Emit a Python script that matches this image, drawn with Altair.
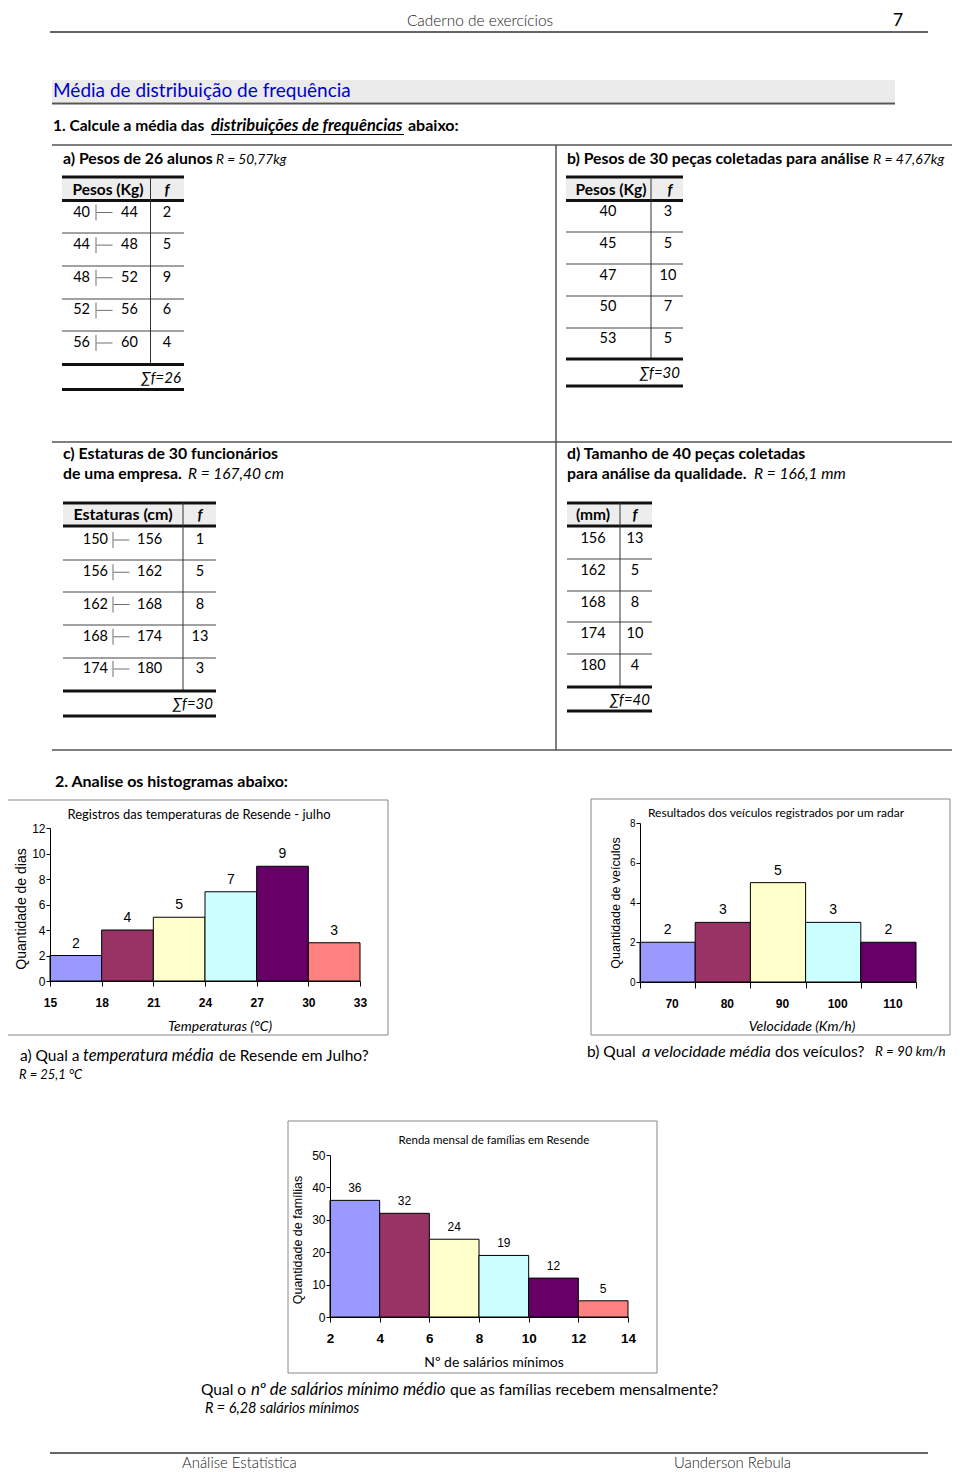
import altair as alt
import pandas as pd

# ---------------- data ----------------
tab_a_lo = [40, 44, 48, 52, 56]
tab_a_hi = [44, 48, 52, 56, 60]
tab_a_f = [2, 5, 9, 6, 4]
tab_b_x = [40, 45, 47, 50, 53]
tab_b_f = [3, 5, 10, 7, 5]
tab_c_lo = [150, 156, 162, 168, 174]
tab_c_hi = [156, 162, 168, 174, 180]
tab_c_f = [1, 5, 8, 13, 3]
tab_d_x = [156, 162, 168, 174, 180]
tab_d_f = [13, 5, 8, 10, 4]

temp_edges = [15, 18, 21, 24, 27, 30, 33]
temp_days = [2, 4, 5, 7, 9, 3]
temp_ticks = [0, 2, 4, 6, 8, 10, 12]
speed_classes = ["70", "80", "90", "100", "110"]
speed_count = [2, 3, 5, 3, 2]
speed_ticks = [0, 2, 4, 6, 8]
wage_edges = [2, 4, 6, 8, 10, 12, 14]
wage_families = [36, 32, 24, 19, 12, 5]
wage_ticks = [0, 10, 20, 30, 40, 50]
bar_palette = ["#9999ff", "#993366", "#ffffcc", "#ccffff", "#660066", "#ff8080"]

# ---------------- layout helpers ----------------
W, H = 944, 1464
BODY = "Lato"
ARIAL = "Liberation Sans"


def px(v):
    return v - 8


DUMMY = pd.DataFrame({"k": [0]})
bg, mid, fg = [], [], []


def txt(s, x, y, size=15, font=BODY, weight="normal", style="normal",
        align="left", color="black", angle=0):
    fg.append(alt.Chart(DUMMY).mark_text(
        text=s, fontSize=size, font=font, fontWeight=weight, fontStyle=style,
        align=align, baseline="middle", color=color, angle=angle
    ).encode(x=alt.value(px(x)), y=alt.value(px(y))))


def line(x1, y1, x2, y2, color="#222", w=1.0):
    bg.append(alt.Chart(DUMMY).mark_rule(color=color, strokeWidth=w).encode(
        x=alt.value(px(x1)), x2=alt.value(px(x2)),
        y=alt.value(px(y1)), y2=alt.value(px(y2))))


def box(x1, y1, x2, y2, fill="white", stroke=None, w=1.0, opacity=1.0):
    kw = dict(fill=fill, fillOpacity=opacity)
    if stroke:
        kw.update(stroke=stroke, strokeWidth=w)
    bg.append(alt.Chart(DUMMY).mark_rect(**kw).encode(
        x=alt.value(px(x1)), x2=alt.value(px(x2)),
        y=alt.value(px(y1)), y2=alt.value(px(y2))))


# ---------------- header ----------------
txt("Caderno de exercícios", 480, 21, 15.4, weight=300, align="center", color="#222")
txt("7", 898, 21, 18, align="center")
line(50, 32, 928, 32, "#333", 1.5)

box(52, 80, 895, 102, fill="#ebebeb")
line(52, 103.5, 895, 103.5, "#555", 2)
txt("Média de distribuição de frequência", 53, 91, 19, color="#0000cc")

txt("1. Calcule a média das", 53, 126, 15.5, weight="bold")
txt("distribuições de frequências", 211, 126, 16.4, weight="bold", style="italic")
line(211, 134.5, 404, 134.5, "#000", 1)
txt("abaixo:", 408, 126, 16, weight="bold")

line(52, 145, 960, 145, "#555", 1.5)
line(556, 145, 556, 750, "#555", 1.5)
line(52, 442, 960, 442, "#555", 1.5)
line(52, 750, 960, 750, "#555", 1.5)

# ---------------- section titles ----------------
TB = 15.8
txt("a) Pesos de 26 alunos", 63, 159, TB, weight="bold")
txt("R = 50,77kg", 216, 160, 13.7, style="italic")
txt("b) Pesos de 30 peças coletadas para  análise", 567, 159, TB, weight="bold")
txt("R = 47,67kg", 873, 160, 14, style="italic")
txt("c) Estaturas de 30 funcionários", 63, 454, TB, weight="bold")
txt("de uma empresa.", 63, 474, TB, weight="bold")
txt("R = 167,40 cm", 188, 474, 15.5, style="italic")
txt("d) Tamanho de 40 peças coletadas", 567, 454, TB, weight="bold")
txt("para análise da qualidade.", 567, 474, TB, weight="bold")
txt("R = 166,1 mm", 754, 474, 15.6, style="italic")


# ---------------- tables ----------------
def table(g, header, cols, sum_label):
    box(g["left"], g["top"] + 1.5, g["right"], g["hbot"] - 1.5, fill="#ededed")
    line(g["left"], g["top"], g["right"], g["top"], "#111", 3)
    line(g["left"], g["hbot"], g["right"], g["hbot"], "#111", 3)
    for ly in g["rlines"]:
        line(g["left"], ly, g["right"], ly, "#444", 1)
    line(g["vdiv"], g["top"], g["vdiv"], g["thick"], "#333", 1)
    line(g["left"], g["thick"], g["right"], g["thick"], "#111", 3)
    line(g["left"], g["bottom"], g["right"], g["bottom"], "#111", 3)
    txt(header, g["hx"], g["hy"], g.get("hs", 15.5), weight="bold", align="center")
    txt("f", g["fhx"], g["hy"], 15, weight="bold", style="italic", align="center")
    txt(sum_label, g["sumx"], g["sumy"], 15, style="italic", align="right")

    n = len(cols[0][0])
    ys = alt.Scale(type="point", domain=list(range(n)),
                   range=[px(g["rows"][0]), px(g["rows"][1])], padding=0)
    parts = []
    for vals, xpos, align in cols:
        df = pd.DataFrame({"row": list(range(n)), "v": vals})
        parts.append(alt.Chart(df).mark_text(
            fontSize=14.5, font=BODY, align=align, baseline="middle", color="black"
        ).encode(y=alt.Y("row:O", scale=ys, axis=None),
                 x=alt.value(px(xpos)), text="v:N"))
    if "sym" in g:
        df = pd.DataFrame({"row": list(range(n))})
        sx = g["sym"]
        parts.append(alt.Chart(df).mark_tick(
            orient="vertical", size=16, thickness=1, color="#333"
        ).encode(y=alt.Y("row:O", scale=ys, axis=None), x=alt.value(px(sx))))
        parts.append(alt.Chart(df).mark_tick(
            orient="horizontal", size=16, thickness=1, color="#333"
        ).encode(y=alt.Y("row:O", scale=ys, axis=None), x=alt.value(px(sx + 8.5))))
    mid.append(alt.layer(*parts))


geo_a = dict(left=62, right=184, vdiv=150.5, top=177, hbot=200.5,
             rows=(212.5, 343), rlines=[233, 266, 299, 331], thick=364.5,
             bottom=389.5, hy=189.5, hx=108, fhx=167, sumx=181, sumy=378, sym=96)
table(geo_a, "Pesos (Kg)",
      [(tab_a_lo, 90, "right"), (tab_a_hi, 121, "left"), (tab_a_f, 167, "center")],
      "∑f=26")

geo_b = dict(left=566, right=683, vdiv=651, top=177, hbot=200.5,
             rows=(212, 339), rlines=[232, 264, 296, 328], thick=359,
             bottom=386, hy=189.5, hx=611, fhx=670, sumx=680, sumy=373)
table(geo_b, "Pesos (Kg)",
      [(tab_b_x, 608, "center"), (tab_b_f, 668, "center")], "∑f=30")

geo_c = dict(left=63, right=216, vdiv=183, top=503, hbot=526,
             rows=(540, 669), rlines=[560, 592, 625, 658], thick=691,
             bottom=716, hy=515, hx=123, fhx=200, sumx=213, sumy=704, sym=113, hs=16)
table(geo_c, "Estaturas (cm)",
      [(tab_c_lo, 108, "right"), (tab_c_hi, 137, "left"), (tab_c_f, 200, "center")],
      "∑f=30")

geo_d = dict(left=567, right=652, vdiv=620, top=503, hbot=526,
             rows=(539, 666), rlines=[559, 591, 622, 654], thick=687,
             bottom=711, hy=515, hx=593, fhx=635, sumx=650, sumy=700)
table(geo_d, "(mm)",
      [(tab_d_x, 593, "center"), (tab_d_f, 635, "center")], "∑f=40")

# ---------------- section 2 ----------------
txt("2. Analise os histogramas abaixo:", 55, 782, 16, weight="bold")

box(3, 800, 388, 1035, fill="white", stroke="#888", opacity=0)
box(591, 799, 950, 1035, fill="white", stroke="#888", opacity=0)
box(288, 1121, 657, 1373, fill="white", stroke="#888", opacity=0)


def axis_x(ypix, values, size, tick=5, pad=9, **kw):
    return alt.Axis(orient="bottom", offset=px(ypix) - H, values=values,
                    tickSize=tick, labelFontSize=size, labelFont=ARIAL,
                    labelFontWeight="bold", labelPadding=pad, labelColor="black",
                    domainColor="black", tickColor="black", grid=False, zindex=1,
                    title=None, labelAngle=0, labelOverlap=False, labelFlush=False,
                    **kw)


def axis_y(xpix, values, size, tick=4):
    return alt.Axis(orient="left", offset=-px(xpix), values=values,
                    tickSize=tick, labelFontSize=size, labelFont=ARIAL,
                    labelPadding=1, labelColor="black", domainColor="black",
                    tickColor="black", grid=False, title=None, zindex=1,
                    labelOverlap=False, labelFlush=False)


def hist_linear(edges, counts, xr, yr, ydom, yvals, ylab, xlab, vsize, xpad):
    df = pd.DataFrame({"lo": edges[:-1], "hi": edges[1:], "n": counts,
                       "c": [str(i) for i in range(len(counts))]})
    xs = alt.Scale(domain=[edges[0], edges[-1]], range=[px(xr[0]), px(xr[1])],
                   nice=False, zero=False)
    ys = alt.Scale(domain=ydom, range=[px(yr[0]), px(yr[1])], nice=False)
    ax = axis_x(yr[0], edges, xlab, pad=xpad)
    ay = axis_y(xr[0], yvals, ylab)
    base = alt.Chart(df)
    bars = base.mark_rect(stroke="black", strokeWidth=1).encode(
        x=alt.X("lo:Q", scale=xs, axis=ax), x2="hi:Q",
        y=alt.Y("n:Q", scale=ys, axis=ay), y2=alt.datum(0),
        color=alt.Color("c:N", scale=alt.Scale(domain=list(df["c"]),
                        range=bar_palette[:len(counts)]), legend=None))
    labels = base.transform_calculate(m="(datum.lo + datum.hi) / 2").mark_text(
        dy=-12, fontSize=vsize, font=ARIAL, color="black", baseline="middle"
    ).encode(x=alt.X("m:Q", scale=xs, axis=ax), y=alt.Y("n:Q", scale=ys, axis=ay),
             text="n:Q")
    return alt.layer(bars, labels)


hist1 = hist_linear(temp_edges, temp_days, (50, 360), (981, 828), [0, 12],
                    temp_ticks, 12, 12, 14, 11)
hist3 = hist_linear(wage_edges, wage_families, (330, 628), (1317, 1155), [0, 50],
                    wage_ticks, 12, 13.5, 12, 9)

# speed histogram (band scale)
df2 = pd.DataFrame({"v": speed_classes, "n": speed_count})
xs2 = alt.Scale(domain=speed_classes, range=[px(640), px(916)],
                paddingInner=0, paddingOuter=0)
ys2 = alt.Scale(domain=[0, 8], range=[px(982), px(823)], nice=False)
ax2 = axis_x(982, speed_classes, 12, tick=6, pad=10, tickBand="extent", labelOffset=4)
ay2 = axis_y(640, speed_ticks, 10)
bars2 = alt.Chart(df2).mark_bar(stroke="black", strokeWidth=1).encode(
    x=alt.X("v:O", scale=xs2, axis=ax2, sort=speed_classes),
    y=alt.Y("n:Q", scale=ys2, axis=ay2), y2=alt.datum(0),
    color=alt.Color("v:N", scale=alt.Scale(domain=speed_classes,
                    range=bar_palette[:5]), legend=None))
labels2 = alt.Chart(df2).mark_text(dy=-12, fontSize=14, font=ARIAL, color="black",
                                   baseline="middle").encode(
    x=alt.X("v:O", scale=xs2, axis=ax2, sort=speed_classes),
    y=alt.Y("n:Q", scale=ys2, axis=ay2), text="n:Q")
hist2 = alt.layer(bars2, labels2)

mid.extend([hist1, hist2, hist3])

# chart texts
txt("Registros das temperaturas de Resende - julho", 199, 815, 13, align="center")
txt("Quantidade de dias", 22, 909, 14, font=ARIAL, align="center", angle=270)
txt("Temperaturas (°C)", 220, 1027, 14, style="italic", align="center")

txt("Resultados dos veículos registrados por um radar", 776, 813, 12, align="center")
txt("Quantidade de veículos", 616, 903, 12.5, font=ARIAL, align="center", angle=270)
txt("Velocidade (Km/h)", 802, 1027, 14, style="italic", align="center")

txt("Renda mensal de famílias  em Resende", 494, 1141, 11.5, align="center")
txt("Quantidade de famílias", 298, 1240, 12.5, font=ARIAL, align="center", angle=270)
txt("Nº de salários mínimos", 494, 1363, 14, align="center")

# questions
txt("a) Qual a", 20, 1056, 15.5)
txt("temperatura média", 83, 1056, 16.5, style="italic")
txt("de Resende em Julho?", 219, 1056, 15.5)
txt("R = 25,1 °C", 19, 1075, 13, style="italic")

txt("b) Qual", 587, 1052, 15.5)
txt("a velocidade média", 642, 1052, 16.3, style="italic")
txt("dos veículos?", 775, 1052, 15.5)
txt("R = 90 km/h", 875, 1052, 13.5, style="italic")

txt("Qual o", 201, 1390, 15.5)
txt("nº de salários mínimo médio", 251, 1390, 16.8, style="italic")
txt("que as famílias recebem mensalmente?", 450, 1390, 15.8)
txt("R = 6,28  salários mínimos", 205, 1409, 14.5, style="italic")

# footer
line(50, 1453, 928, 1453, "#333", 1.5)
txt("Análise Estatística", 182, 1464, 14.9, weight=300, color="#222")
txt("Uanderson Rebula", 674, 1464, 14.9, weight=300, color="#222")

chart = alt.layer(*bg, *mid, *fg).resolve_scale(
    x="independent", y="independent", color="independent"
).resolve_axis(x="independent", y="independent").properties(
    width=W, height=H, autosize=alt.AutoSizeParams(type="none"), padding=0
).configure_view(stroke=None)

chart.save("out.html", embed_options={"renderer": "svg", "actions": False})
